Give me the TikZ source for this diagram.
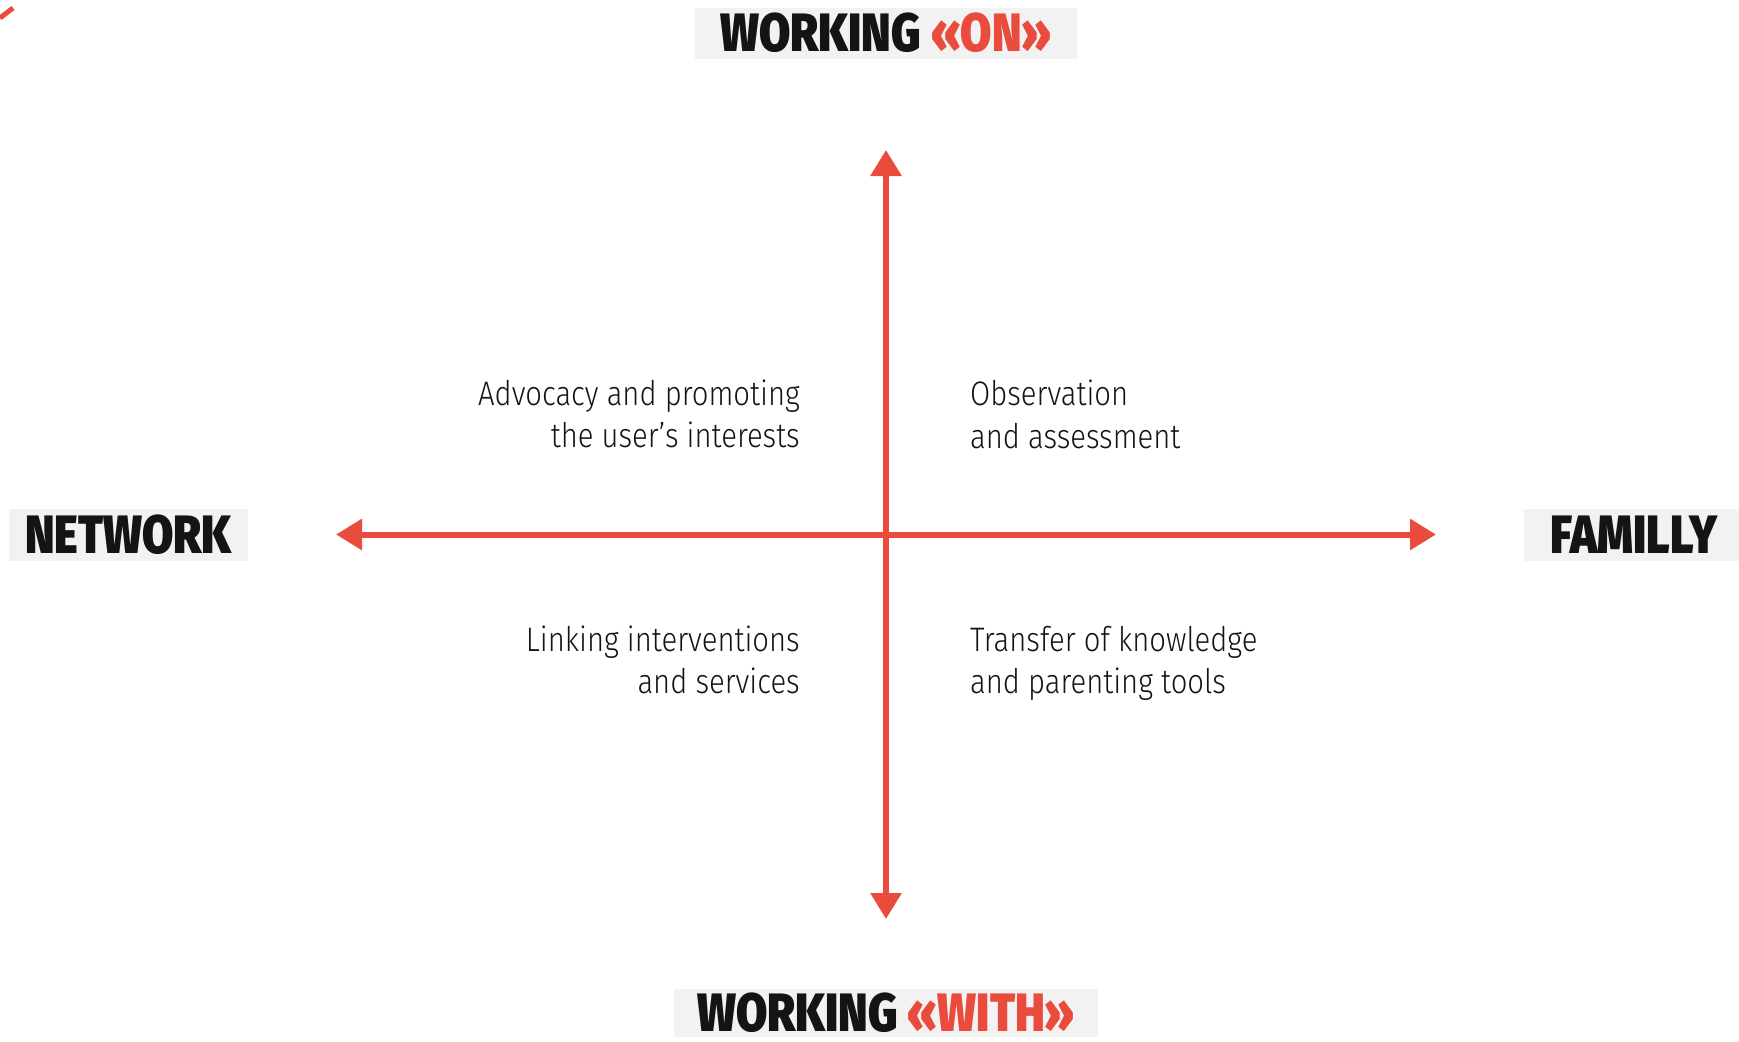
\documentclass[tikz,border=0pt]{standalone}
\usepackage{fontspec}
\usetikzlibrary{arrows.meta}
\newfontfamily\headf[FakeStretch=0.84]{Fira Sans Black}
\newfontfamily\bodyf[FakeStretch=0.86]{Fira Sans Light}
\definecolor{axisred}{RGB}{233,75,60}
\definecolor{boxgray}{RGB}{242,242,242}
\definecolor{inkc}{RGB}{20,20,20}
\tikzset{
  axisboth/.style={draw=axisred, line width=6pt, {Triangle[length=26pt,width=30pt]}-{Triangle[length=26pt,width=30pt]}},
  headbox/.style={fill=boxgray, inner sep=0pt, text=inkc, font=\headf\fontsize{54}{54}\selectfont, text height=37pt, text depth=0pt},
  quad/.style={inner sep=0pt, text=inkc, font=\bodyf\fontsize{34}{40}\selectfont},
}
\begin{document}
\begin{tikzpicture}[x=1pt,y=-1pt]
\useasboundingbox (0,0) rectangle (1739,1041);
% heading boxes
\node[headbox, minimum width=382pt, minimum height=51pt] (on) at (886,33.5) {WORKING \textcolor{axisred}{«ON»}};
\node[headbox, minimum width=424pt, minimum height=48pt] (with) at (886,1013) {WORKING \textcolor{axisred}{«WITH»}};
\node[headbox, minimum width=239pt, minimum height=52pt] (network) at (128.5,535) {NETWORK};
\node[headbox, minimum width=220pt, minimum height=52pt] (family) at (1634,535) {FAMILLY};
% axes
\coordinate (top) at (886,150);
\coordinate (bottom) at (886,919);
\coordinate (left) at (336,534.5);
\coordinate (right) at (1436,534.5);
\draw[axisboth] (top) -- (bottom);
\draw[axisboth] (left) -- (right);
% quadrant texts
\node[quad, anchor=base east] (q1a) at (800,405) {Advocacy and promoting};
\node[quad, anchor=base east] (q1b) at (800,447) {the user’s interests};
\node[quad, anchor=base west] (q2a) at (970,405) {Observation};
\node[quad, anchor=base west] (q2b) at (970,448) {and assessment};
\node[quad, anchor=base east] (q3a) at (800,651) {Linking interventions};
\node[quad, anchor=base east] (q3b) at (800,693) {and services};
\node[quad, anchor=base west] (q4a) at (970,651) {Transfer of knowledge};
\node[quad, anchor=base west] (q4b) at (970,693) {and parenting tools};
% corner mark
\coordinate (m1) at (0,18);
\coordinate (m2) at (13,8);
\draw[axisred, line width=5pt] (m1) -- (m2);
\end{tikzpicture}
\end{document}
